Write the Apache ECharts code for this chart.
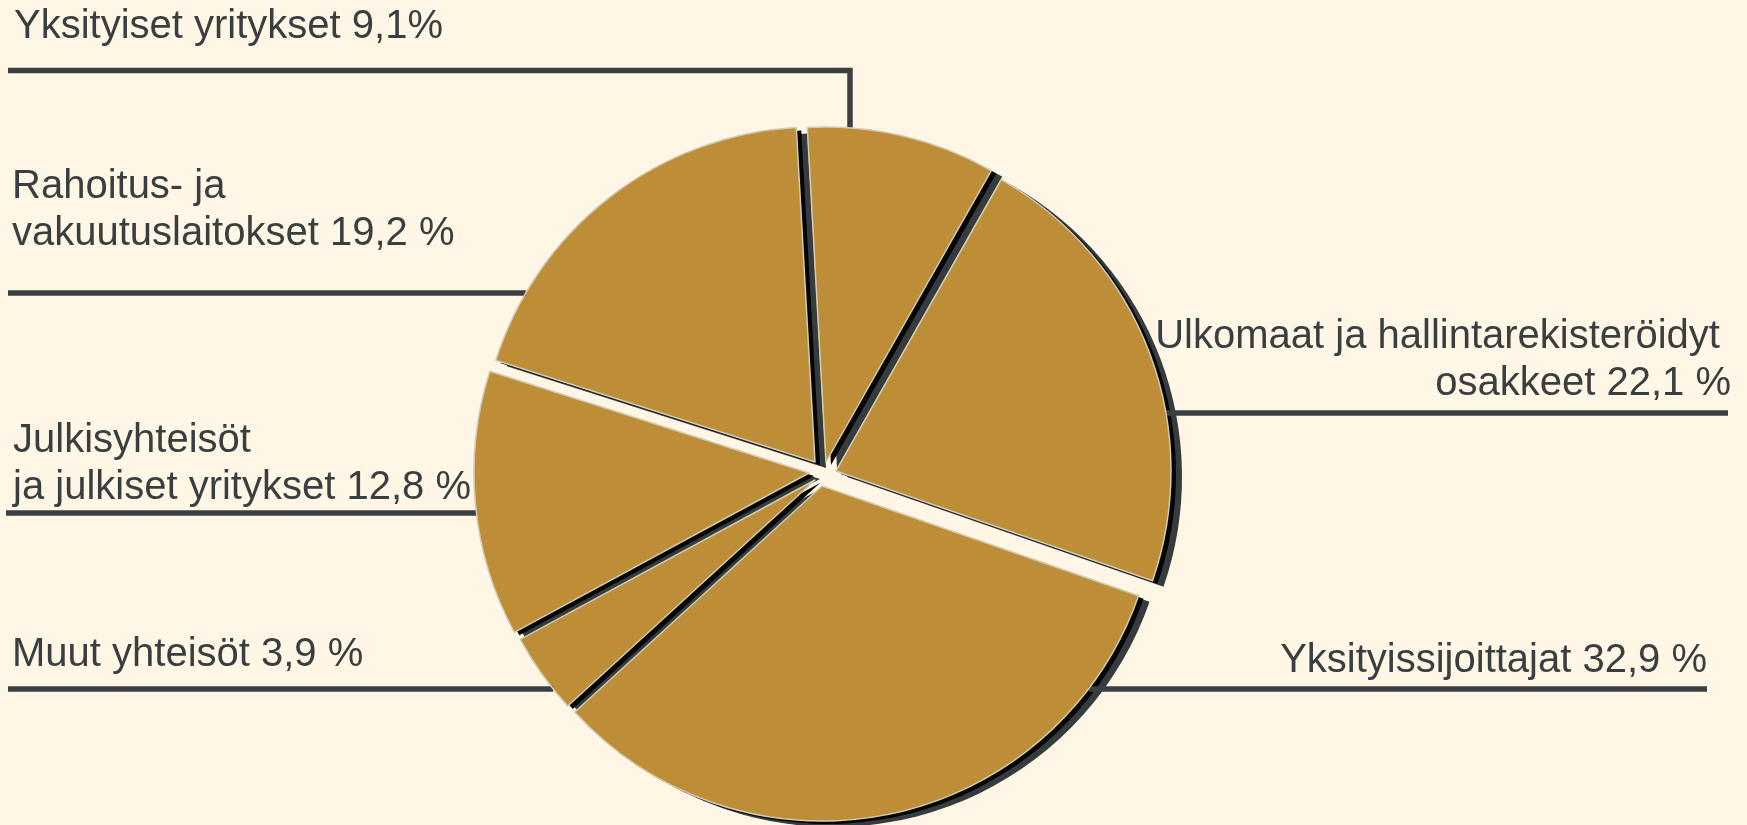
<!DOCTYPE html>
<html>
<head>
<meta charset="utf-8">
<script src="https://cdn.jsdelivr.net/npm/echarts@6/dist/echarts.min.js"></script>
<style>
html,body{margin:0;padding:0;background:#FFF6E5;}
#chart{width:1747px;height:825px;}
</style>
</head>
<body>
<div id="chart"></div>
<script>
// ---- data ----
const categories = [
  'Yksityiset yritykset',
  'Ulkomaat ja hallintarekisteröidyt osakkeet',
  'Yksityissijoittajat',
  'Muut yhteisöt',
  'Julkisyhteisöt ja julkiset yritykset',
  'Rahoitus- ja vakuutuslaitokset'
];
const values = [9.1, 22.1, 32.9, 3.9, 12.8, 19.2];
const nameLines = [
  ['Yksityiset yritykset'],
  ['Ulkomaat ja hallintarekisteröidyt ', 'osakkeet'],
  ['Yksityissijoittajat'],
  ['Muut yhteisöt'],
  ['Julkisyhteisöt', 'ja julkiset yritykset'],
  ['Rahoitus- ja', 'vakuutuslaitokset']
];
const percentSuffix = ['%', ' %', ' %', ' %', ' %', ' %'];

// ---- layout / style ----
const R = 335;
const START_ANGLE = 93.2;
const sliceCenters = [[826,462],[836,471],[822,486],[815,480],[809,473],[815,462]];
const labelPos = [
  {x:14,   y:3,   align:'left',  lineY:70.5, lineEnd:8, vx:850},
  {x:1731, y:313, align:'right', lineY:413,  lineEnd:1728},
  {x:1707, y:637, align:'right', lineY:689,  lineEnd:1707},
  {x:12,   y:631, align:'left',  lineY:689,  lineEnd:8},
  {x:13,   y:417, align:'left',  lineY:513,  lineEnd:6},
  {x:12,   y:163, align:'left',  lineY:293,  lineEnd:8}
];
const FILL = '#BD8E37';
const BORDER = '#D0CCB2';
const TEXT = '#393E41';
const LINE = '#3A3F42';

function labelText(i) {
  const lines = nameLines[i].slice();
  const v = values[i].toFixed(1).replace('.', ',');
  lines[lines.length - 1] = lines[lines.length - 1] + ' ' + v + percentSuffix[i];
  return lines.join('\n');
}

function linePoints(i) {
  const c = sliceCenters[i], L = labelPos[i];
  if (L.vx !== undefined) {
    const y0 = c[1] - Math.sqrt(R * R - (L.vx - c[0]) ** 2);
    return [[L.vx, y0], [L.vx, L.lineY], [L.lineEnd, L.lineY]];
  }
  const dx = Math.sqrt(R * R - (L.lineY - c[1]) ** 2);
  const x0 = L.align === 'left' ? c[0] - dx : c[0] + dx;
  return [[x0, L.lineY], [x0, L.lineY], [L.lineEnd, L.lineY]];
}

const layerZ = {shadow: 2, fill: 3, border: 4};

function makeSeries(i, layer) {
  const withLabel = layer === 'border';
  const s = {
    type: 'pie',
    z: layerZ[layer],
    center: sliceCenters[i],
    radius: [0, R],
    startAngle: START_ANGLE,
    clockwise: true,
    avoidLabelOverlap: false,
    silent: true,
    animation: false,
    emphasis: {disabled: true},
    label: {show: false},
    labelLine: {show: false},
    data: categories.map((name, j) => {
      const item = {name: name, value: values[j]};
      item.label = {show: false};
      item.labelLine = {show: false};
      if (j !== i) {
        item.itemStyle = {opacity: 0};
      } else if (layer === 'shadow') {
        item.itemStyle = {
          color: '#363B3E', borderWidth: 0,
          shadowColor: '#363B3E', shadowBlur: 0, shadowOffsetX: 11, shadowOffsetY: 6
        };
      } else if (layer === 'fill') {
        item.itemStyle = {
          color: FILL, borderWidth: 0,
          shadowColor: '#050505', shadowBlur: 0, shadowOffsetX: 5, shadowOffsetY: 3
        };
      } else {
        item.itemStyle = {color: 'rgba(0,0,0,0)', borderColor: BORDER, borderWidth: 1.5};
        item.label = {
          show: true,
          formatter: () => labelText(j),
          color: TEXT,
          fontSize: 40,
          lineHeight: 47,
          fontFamily: '"Liberation Sans", Arial, sans-serif'
        };
        item.labelLine = {show: true, lineStyle: {color: LINE, width: 5.5, cap: 'butt'}};
      }
      return item;
    })
  };
  if (withLabel) {
    s.labelLayout = function (p) {
      const L = labelPos[p.dataIndex];
      return {
        x: L.x, y: L.y, align: L.align, verticalAlign: 'top',
        labelLinePoints: linePoints(p.dataIndex)
      };
    };
  }
  return s;
}

const series = [];
['shadow', 'fill', 'border'].forEach(layer => {
  for (let i = 0; i < categories.length; i++) series.push(makeSeries(i, layer));
});

const chart = echarts.init(document.getElementById('chart'), null, {renderer: 'canvas'});
chart.setOption({
  backgroundColor: '#FFF6E5',
  animation: false,
  tooltip: {show: false},
  series: series
});
</script>
</body>
</html>
